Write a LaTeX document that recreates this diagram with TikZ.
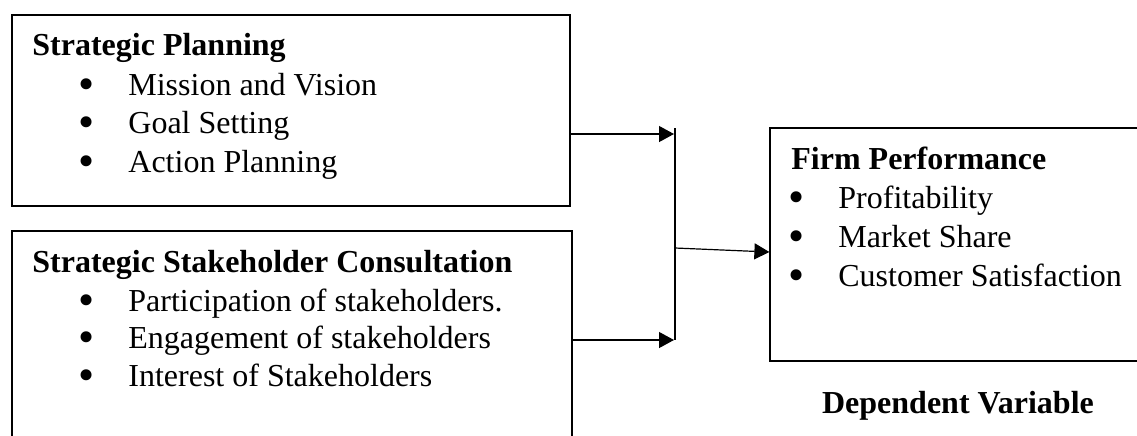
\documentclass[tikz,border=0pt]{standalone}
\usepackage{fontspec}
\setmainfont{Liberation Serif}
\usetikzlibrary{arrows.meta,fit}

\begin{document}
\begin{tikzpicture}[x=0.5pt,y=-0.5pt,
	box/.style={draw, line width=0.6pt, inner sep=0pt},
	head/.style={anchor=base west, inner sep=0pt, font=\fontsize{16}{19}\selectfont\bfseries},
	item/.style={anchor=base west, inner sep=0pt, font=\fontsize{16}{19}\selectfont},
	dot/.style={anchor=base, inner sep=0pt, font=\fontsize{23}{23}\selectfont},
	link/.style={line width=0.6pt, -{Triangle[length=7.5pt,width=8pt]}}]

	\useasboundingbox (0,0) rectangle (1137,435);
	\clip (0,0) rectangle (1137,435);

	% boxes
	\node[box, fit={(12,15) (570,206)}] (plan) {};
	\node[box, fit={(12,231) (572,470)}] (consult) {};
	\node[box, fit={(770,128) (1170,361)}] (perf) {};

	% strategic planning
	\node[head] (plan_head) at (32,55) {Strategic Planning};
	\foreach \txt [count=\i] in {Mission and Vision, Goal Setting, Action Planning} {
		\node[dot] (plan_dot_\i) at (87,60.8+38.5*\i) {\textbullet};
		\node[item] (plan_item_\i) at (128,56.5+38.5*\i) {\txt};
	}

	% stakeholder consultation
	\node[head] (consult_head) at (32,272) {Strategic Stakeholder Consultation};
	\foreach \txt [count=\i] in {Participation of stakeholders., Engagement of stakeholders, Interest of Stakeholders} {
		\node[dot] (consult_dot_\i) at (87,277.8+37.5*\i) {\textbullet};
		\node[item] (consult_item_\i) at (128,273.5+37.5*\i) {\txt};
	}

	% firm performance
	\node[head] (perf_head) at (791,169) {Firm Performance};
	\foreach \txt [count=\i] in {Profitability, Market Share, Customer Satisfaction} {
		\node[dot] (perf_dot_\i) at (797,173.3+39*\i) {\textbullet};
		\node[item] (perf_item_\i) at (838,169+39*\i) {\txt};
	}
	\node[head, anchor=base] (dep) at (958,413) {Dependent Variable};

	% connectors
	\coordinate (bar_top) at (675,128);
	\coordinate (bar_bot) at (675,340);
	\coordinate (bar_mid) at (675,248);
	\coordinate (in_plan) at (674,134);
	\coordinate (in_consult) at (674,340);
	\coordinate (in_perf) at (770,252);
	\draw[line width=0.6pt] (bar_top) -- (bar_bot);
	\draw[link] (plan.east |- in_plan) -- (in_plan);
	\draw[link] (consult.east |- in_consult) -- (in_consult);
	\draw[link] (bar_mid) -- (perf.west |- in_perf);
\end{tikzpicture}
\end{document}
